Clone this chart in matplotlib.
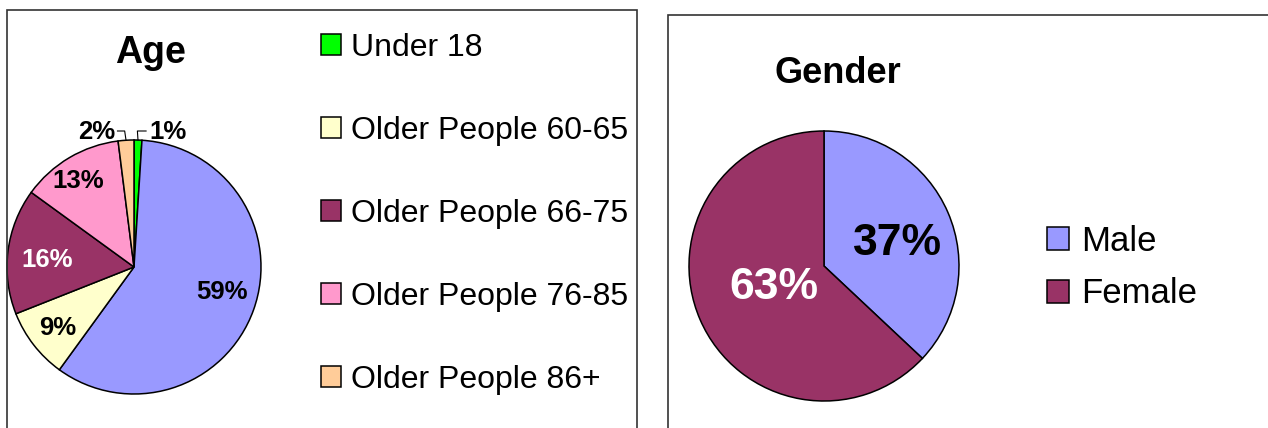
import matplotlib
matplotlib.use("Agg")
import matplotlib.pyplot as plt
from matplotlib.patches import Rectangle
import numpy as np

W, H = 1268, 428
plt.rcParams['font.family'] = ['Liberation Sans', 'DejaVu Sans']

# ---- data ----
age_categories = ["Under 18", "Adults 19-59", "Older People 60-65", "Older People 66-75",
                  "Older People 76-85", "Older People 86+"]
age_values = [1, 59, 9, 16, 13, 2]
age_colors = ["#00FF00", "#9999FF", "#FFFFCC", "#993366", "#FF99CC", "#FFCC99"]
age_legend_idx = [0, 2, 3, 4, 5]   # the blue slice has no legend entry in the source

gender_categories = ["Male", "Female"]
gender_values = [37, 63]
gender_colors = ["#9999FF", "#993366"]


def fx(x):
    return x / W


def fy(y):
    return 1 - y / H


fig = plt.figure(figsize=(W / 100, H / 100), dpi=100)
fig.patch.set_facecolor("white")

# panel borders
fig.patches.append(Rectangle((fx(7), fy(445)), 630 / W, 435 / H, transform=fig.transFigure,
                             fill=False, edgecolor="#333333", lw=1.2, clip_on=False))
fig.patches.append(Rectangle((fx(668), fy(445)), 640 / W, 430 / H, transform=fig.transFigure,
                             fill=False, edgecolor="#333333", lw=1.2, clip_on=False))

# ---- Age pie ----
cx1, cy1, r1 = 134, 267, 127
ax1 = fig.add_axes([fx(cx1 - r1), fy(cy1 + r1), 2 * r1 / W, 2 * r1 / H])
w1, _ = ax1.pie(age_values, colors=age_colors, startangle=90, counterclock=False,
                wedgeprops=dict(edgecolor="black", linewidth=1.1))
ax1.set_xlim(-1, 1)
ax1.set_ylim(-1, 1)
ax1.axis("off")

fig.text(fx(150), fy(63), "Age", ha="center", va="baseline", fontsize=27, fontweight="bold")

lab_kw = dict(ha="center", va="baseline", fontsize=18.5, fontweight="bold")
age_label_pos = {1: (222, 299), 3: (47, 267), 2: (58, 335), 4: (78, 188), 5: (97, 139), 0: (168, 139)}
age_label_col = {0: "black", 1: "black", 2: "black", 3: "white", 4: "black", 5: "black"}
for i, (x, y) in age_label_pos.items():
    fig.text(fx(x), fy(y), f"{age_values[i]}%", color=age_label_col[i], **lab_kw)

# leader lines for the two small slices
y_elb = (cy1 - 131) / r1
for i, x_end in [(5, -0.13), (0, 0.095)]:
    th = np.deg2rad((w1[i].theta1 + w1[i].theta2) / 2)
    ex, ey = np.cos(th), np.sin(th)
    ax1.plot([ex, ex * 0.85 + (0 if i == 0 else -0.02), x_end], [ey, y_elb, y_elb],
             color="black", lw=0.8, clip_on=False)

fig.legend([w1[i] for i in age_legend_idx], [age_categories[i] for i in age_legend_idx],
           loc="upper left", bbox_to_anchor=(fx(321), fy(33)), bbox_transform=fig.transFigure,
           frameon=False, fontsize=23, borderpad=0, borderaxespad=0,
           handlelength=0.64, handleheight=0.64, handletextpad=0.3, labelspacing=1.66)

# ---- Gender pie ----
cx2, cy2, r2 = 824, 266, 135
ax2 = fig.add_axes([fx(cx2 - r2), fy(cy2 + r2), 2 * r2 / W, 2 * r2 / H])
w2, _ = ax2.pie(gender_values, colors=gender_colors, startangle=90, counterclock=False,
                wedgeprops=dict(edgecolor="black", linewidth=1.1))
ax2.set_xlim(-1, 1)
ax2.set_ylim(-1, 1)
ax2.axis("off")

fig.text(fx(838), fy(83), "Gender", ha="center", va="baseline", fontsize=26, fontweight="bold")
fig.text(fx(897), fy(255), f"{gender_values[0]}%", ha="center", va="baseline",
         fontsize=32, fontweight="bold", color="black")
fig.text(fx(774), fy(299), f"{gender_values[1]}%", ha="center", va="baseline",
         fontsize=32, fontweight="bold", color="white")

fig.legend(w2, gender_categories, loc="upper left", bbox_to_anchor=(fx(1047), fy(225)),
           bbox_transform=fig.transFigure, frameon=False, fontsize=25, borderpad=0,
           borderaxespad=0, handlelength=0.64, handleheight=0.64, handletextpad=0.34,
           labelspacing=0.56)

fig.savefig("out.png", dpi=100, facecolor="white")
